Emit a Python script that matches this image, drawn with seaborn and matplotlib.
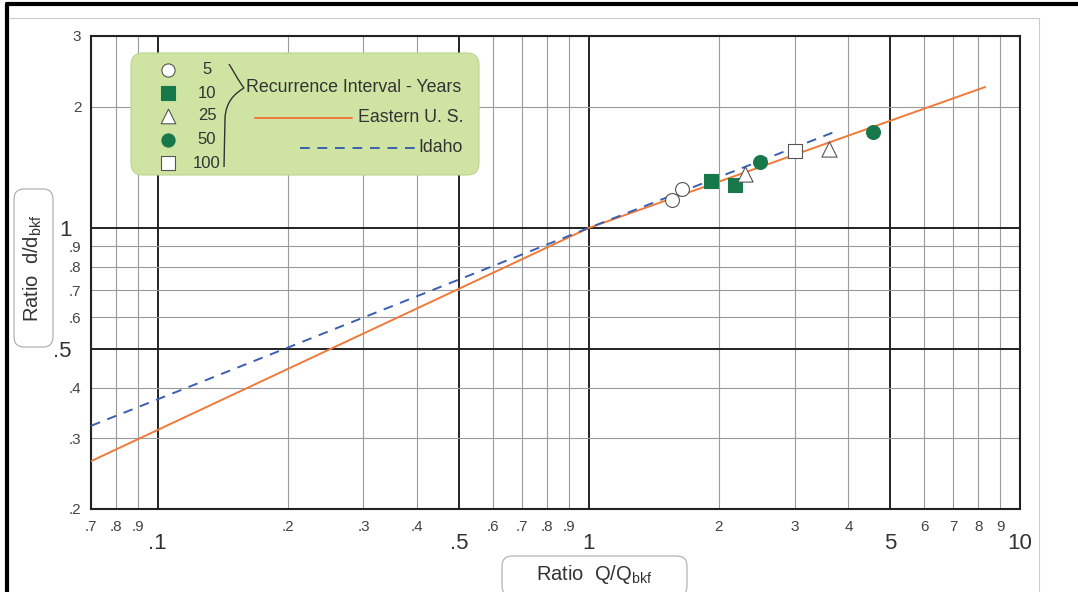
import matplotlib
matplotlib.use("Agg")
import matplotlib.pyplot as plt
from matplotlib.patches import FancyBboxPatch
from matplotlib.path import Path
from matplotlib.patches import PathPatch
import seaborn as sns
import pandas as pd

# Curves (ratio Q/Qbkf vs ratio d/dbkf)
eastern_q = [0.07, 1.0, 8.3]
eastern_d = [0.263, 1.0, 2.24]
idaho_q = [0.07, 1.0, 3.7]
idaho_d = [0.322, 1.0, 1.73]

# Observed points by recurrence interval (years)
intervals = ["5", "10", "25", "50", "100"]
obs_q = {"5": [1.56, 1.64], "10": [1.92, 2.18], "25": [2.30, 3.61],
         "50": [2.49, 4.57], "100": [3.01]}
obs_d = {"5": [1.17, 1.25], "10": [1.31, 1.28], "25": [1.36, 1.57],
         "50": [1.46, 1.73], "100": [1.55]}

# Tick labels as printed on the chart
x_major = [0.1, 0.5, 1, 5, 10]
x_major_lab = [".1", ".5", "1", "5", "10"]
x_minor = [0.07, 0.08, 0.09, 0.2, 0.3, 0.4, 0.6, 0.7, 0.8, 0.9, 2, 3, 4, 6, 7, 8, 9]
x_minor_lab = [".7", ".8", ".9", ".2", ".3", ".4", ".6", ".7", ".8", ".9",
               "2", "3", "4", "6", "7", "8", "9"]
y_major = [0.5, 1]
y_major_lab = [".5", "1"]
y_minor = [0.2, 0.3, 0.4, 0.6, 0.7, 0.8, 0.9, 2, 3]
y_minor_lab = [".2", ".3", ".4", ".6", ".7", ".8", ".9", "2", "3"]

GREEN = "#17784a"
ORANGE = "#f07a3a"
BLUE = "#3a5fb0"
marker_style = {"5": ("o", "white"), "10": ("s", GREEN), "25": ("^", "white"),
                "50": ("o", GREEN), "100": ("s", "white")}

sns.set_style("white")
plt.rcParams["font.family"] = ["Liberation Sans", "DejaVu Sans"]
plt.rcParams["mathtext.fontset"] = "custom"
plt.rcParams["mathtext.rm"] = "Liberation Sans"
plt.rcParams["mathtext.it"] = "Liberation Sans:italic"

W, H = 1078, 592
fig = plt.figure(figsize=(W / 100, H / 100), dpi=100)
ax = fig.add_axes([91 / W, 1 - 509 / H, 929 / W, 473 / H])
ax.set_xscale("log")
ax.set_yscale("log")

east = pd.DataFrame({"q": eastern_q, "d": eastern_d})
idaho = pd.DataFrame({"q": idaho_q, "d": idaho_d})
sns.lineplot(data=east, x="q", y="d", ax=ax, color=ORANGE, lw=1.4,
             sort=False, estimator=None, zorder=3)
sns.lineplot(data=idaho, x="q", y="d", ax=ax, color=BLUE, lw=1.4,
             sort=False, estimator=None, linestyle=(0, (5, 4)), zorder=3)

for k in intervals:
    m, fc = marker_style[k]
    sz = 120 if m == "^" else 100
    sns.scatterplot(x=obs_q[k], y=obs_d[k], ax=ax, marker=m, s=sz, color=fc,
                    edgecolor="#555555" if fc == "white" else GREEN,
                    linewidth=0.8, zorder=4)

ax.set_xlim(0.07, 10)
ax.set_ylim(0.2, 3)
ax.set_xticks(x_major)
ax.set_xticklabels(x_major_lab, fontsize=16, color="#333333")
ax.set_xticks(x_minor, minor=True)
ax.set_xticklabels(x_minor_lab, minor=True, fontsize=11, color="#444444")
ax.set_yticks(y_major)
ax.set_yticklabels(y_major_lab, fontsize=16, color="#333333")
ax.set_yticks(y_minor, minor=True)
ax.set_yticklabels(y_minor_lab, minor=True, fontsize=11, color="#444444")
ax.tick_params(which="both", length=0)
ax.tick_params(axis="x", which="major", pad=17)
ax.tick_params(axis="x", which="minor", pad=8)
ax.tick_params(axis="y", which="major", pad=14)
ax.tick_params(axis="y", which="minor", pad=7)
ax.set_xlabel("")
ax.set_ylabel("")
ax.grid(which="minor", color="#9a9a9a", lw=0.8)
ax.grid(which="major", color="#222222", lw=1.4)
ax.set_axisbelow(True)
for sp in ax.spines.values():
    sp.set_color("#222222")
    sp.set_linewidth(1.5)

# Overlay in pixel coordinates for the decorations
ov = fig.add_axes([0, 0, 1, 1], zorder=5)
ov.set_xlim(0, W)
ov.set_ylim(H, 0)
ov.axis("off")
ov.patch.set_alpha(0)

# page frame
ov.plot([7, W], [4, 4], color="black", lw=3)
ov.plot([7, 7], [4, H], color="black", lw=3)
ov.plot([9, 1039, 1039], [18, 18, H], color="#cccccc", lw=0.8)

# legend box
ov.add_patch(FancyBboxPatch((131, 53), 348, 122, boxstyle="round,pad=0,rounding_size=12",
                            fc="#cfe4a3", ec="#bcd58e", lw=0.8))
leg_y = [70, 93, 116, 140, 163]
for k, yy in zip(intervals, leg_y):
    m, fc = marker_style[k]
    ov.scatter([168], [yy], marker=m, s=90 if m != "^" else 110, c=fc,
               edgecolors="#555555" if fc == "white" else GREEN, linewidths=0.8)
    ov.text(207, yy, k, ha="center", va="center", fontsize=12, color="#333333")

brace = Path([(229, 64), (234, 72), (238, 80), (244, 88),
              (234, 94), (226, 102), (225, 118),
              (224, 167)],
             [Path.MOVETO, Path.CURVE4, Path.CURVE4, Path.CURVE4,
              Path.CURVE4, Path.CURVE4, Path.CURVE4,
              Path.LINETO])
ov.add_patch(PathPatch(brace, fc="none", ec="#333333", lw=1.0))

ov.text(246, 88, "Recurrence Interval - Years", ha="left", va="center",
        fontsize=12.8, color="#333333")
ov.plot([255, 352], [118, 118], color=ORANGE, lw=1.4)
ov.text(463, 118, "Eastern U. S.", ha="right", va="center", fontsize=12.8, color="#333333")
ov.plot([300, 415], [148, 148], color=BLUE, lw=1.4, linestyle=(0, (5, 4)))
ov.text(463, 148, "Idaho", ha="right", va="center", fontsize=12.8, color="#333333")

# axis titles in rounded boxes
ov.add_patch(FancyBboxPatch((14, 189), 39, 158, boxstyle="round,pad=0,rounding_size=10",
                            fc="white", ec="#aaaaaa", lw=0.8))
ov.text(33, 268, r"Ratio  d/d$_{\mathrm{bkf}}$", rotation=90, ha="center", va="center",
        fontsize=14.5, color="#333333")
ov.add_patch(FancyBboxPatch((502, 556), 185, 40, boxstyle="round,pad=0,rounding_size=10",
                            fc="white", ec="#aaaaaa", lw=0.8))
ov.text(594, 574, r"Ratio  Q/Q$_{\mathrm{bkf}}$", ha="center", va="center",
        fontsize=14.5, color="#333333")

fig.savefig("out.png", dpi=100)
